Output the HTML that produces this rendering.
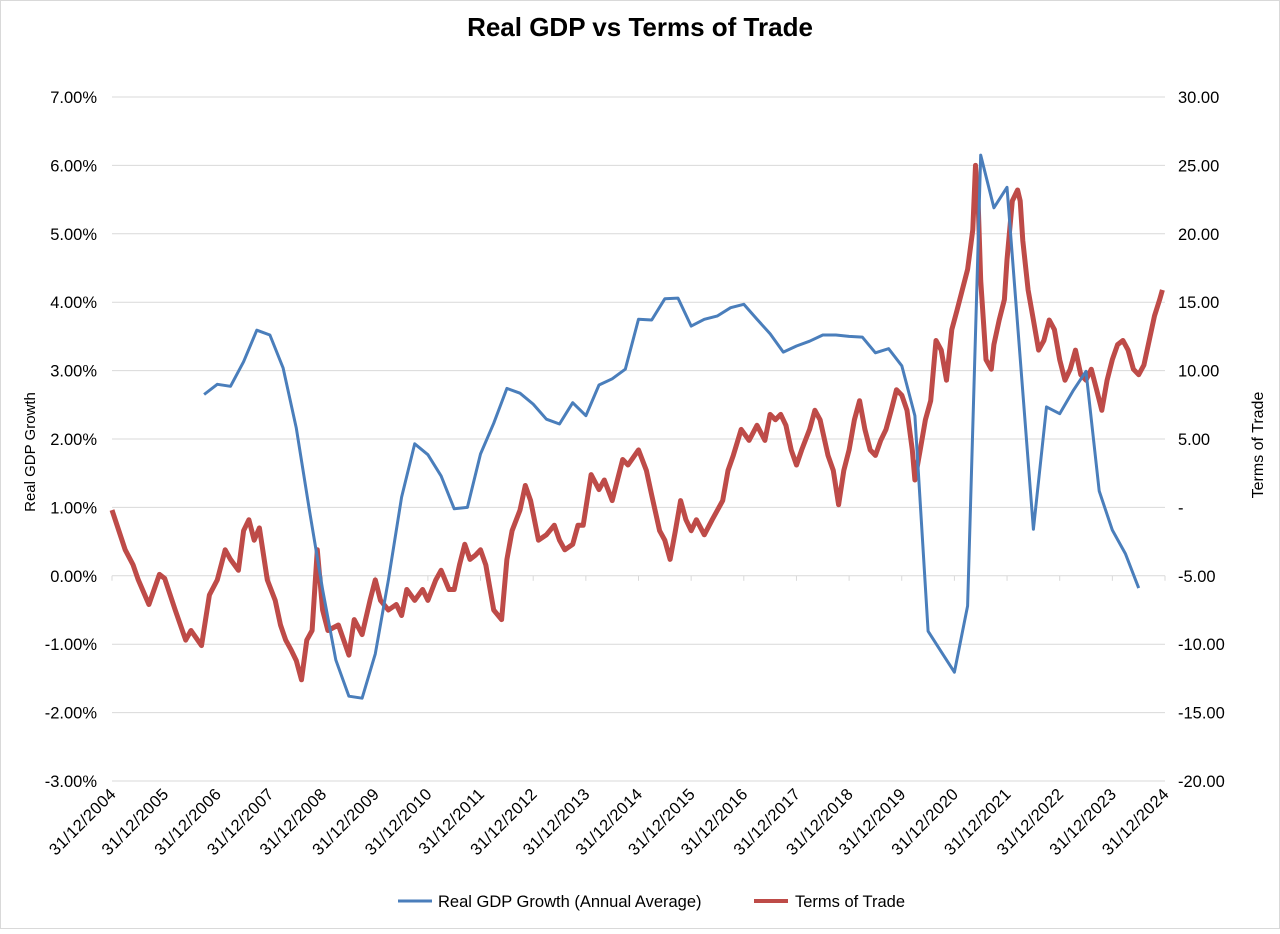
<!DOCTYPE html>
<html><head><meta charset="utf-8"><style>
body{margin:0;background:#fff;font-family:"Liberation Sans",sans-serif}
#wrap{position:relative;width:1280px;height:929px;background:#fff}
svg text{font-family:"Liberation Sans",sans-serif;fill:#000}
</style></head><body>
<div id="wrap">
<svg id="chart" width="1280" height="929">
<rect x="0.5" y="0.5" width="1279" height="928" fill="#fff" stroke="#d9d9d9"/>
<text x="640" y="36" text-anchor="middle" font-size="26" font-weight="bold">Real GDP vs Terms of Trade</text>
<text transform="translate(35,452) rotate(-90)" text-anchor="middle" font-size="15">Real GDP Growth</text>
<text transform="translate(1263,445) rotate(-90)" text-anchor="middle" font-size="16">Terms of Trade</text>
<g id="grid"></g><g id="axes"></g><g id="series"></g>
<g>
<line x1="398" y1="901" x2="432" y2="901" stroke="#4a7ebb" stroke-width="3"/>
<text x="438" y="907" font-size="16.5">Real GDP Growth (Annual Average)</text>
<line x1="754" y1="901" x2="788" y2="901" stroke="#be4b48" stroke-width="4"/>
<text x="795" y="907" font-size="16.5">Terms of Trade</text>
</g>
</svg></div>
<script>
const leftTicks=[7,6,5,4,3,2,1,0,-1,-2,-3];
const leftTickLabels=["7.00%","6.00%","5.00%","4.00%","3.00%","2.00%","1.00%","0.00%","-1.00%","-2.00%","-3.00%"];
const rightTickLabels=["30.00","25.00","20.00","15.00","10.00","5.00","-","-5.00","-10.00","-15.00","-20.00"];
const xTickYears=[2005,2006,2007,2008,2009,2010,2011,2012,2013,2014,2015,2016,2017,2018,2019,2020,2021,2022,2023,2024,2025];
const xTickLabels=["31/12/2004","31/12/2005","31/12/2006","31/12/2007","31/12/2008","31/12/2009","31/12/2010","31/12/2011","31/12/2012","31/12/2013","31/12/2014","31/12/2015","31/12/2016","31/12/2017","31/12/2018","31/12/2019","31/12/2020","31/12/2021","31/12/2022","31/12/2023","31/12/2024"];
const gdpStart=2006.75;
const gdpValues=[2.65,2.80,2.77,3.13,3.59,3.52,3.04,2.16,0.96,-0.2,
-1.23,-1.76,-1.79,-1.14,-0.06,1.15,1.93,1.77,1.46,0.98,
1.0,1.78,2.23,2.74,2.67,2.51,2.29,2.22,2.53,2.34,
2.79,2.88,3.02,3.75,3.74,4.05,4.06,3.65,3.75,3.80,
3.92,3.97,3.75,3.54,3.27,3.36,3.43,3.52,3.52,3.50,
3.49,3.26,3.32,3.07,2.34,-0.81,-1.11,-1.41,-0.44,6.15,
5.38,5.68,3.18,0.68,2.47,2.37,2.7,2.99,1.24,0.67,0.32,-0.18];
const totDates=[
2005.0,2005.25,2005.4,2005.5,2005.7,2005.9,
2006.0,2006.2,2006.4,2006.5,2006.7,2006.85,
2007.0,2007.15,2007.25,2007.4,2007.5,2007.6,2007.7,2007.8,2007.95,
2008.1,2008.2,2008.3,2008.4,2008.5,2008.6,2008.7,2008.8,2008.9,
2009.0,2009.1,2009.3,2009.4,2009.5,2009.6,2009.75,2009.9,
2010.0,2010.1,2010.25,2010.4,2010.5,2010.6,2010.75,2010.9,
2011.0,2011.15,2011.25,2011.4,2011.5,2011.6,2011.7,2011.8,2011.9,
2012.0,2012.1,2012.25,2012.4,2012.5,2012.6,2012.75,2012.85,2012.95,
2013.1,2013.25,2013.4,2013.5,2013.6,2013.75,2013.85,2013.95,
2014.1,2014.25,2014.35,2014.5,2014.6,2014.7,2014.8,
2015.0,2015.15,2015.25,2015.4,2015.5,2015.6,2015.7,2015.8,2015.9,
2016.0,2016.1,2016.25,2016.4,2016.5,2016.6,2016.7,2016.8,2016.95,
2017.1,2017.25,2017.4,2017.5,2017.6,2017.7,2017.8,2017.9,
2018.0,2018.1,2018.25,2018.35,2018.45,2018.6,2018.7,2018.8,2018.9,
2019.0,2019.1,2019.2,2019.3,2019.4,2019.5,2019.6,2019.7,2019.8,2019.9,
2020.0,2020.1,2020.2,2020.25,2020.35,2020.45,2020.55,2020.65,2020.75,2020.85,2020.95,
2021.05,2021.15,2021.25,2021.35,2021.4,2021.45,2021.5,2021.6,2021.7,2021.75,2021.85,2021.95,
2022.0,2022.1,2022.2,2022.25,2022.3,2022.4,2022.5,2022.6,2022.7,2022.8,2022.9,
2023.0,2023.1,2023.2,2023.3,2023.4,2023.5,2023.6,2023.7,2023.8,2023.9,
2024.0,2024.1,2024.2,2024.3,2024.4,2024.5,2024.6,2024.7,2024.8,2024.9,2024.95];
const totValues=[
-0.2,-3.1,-4.2,-5.3,-7.1,-4.9,
-5.2,-7.5,-9.7,-9.0,-10.1,-6.4,
-5.3,-3.1,-3.8,-4.6,-1.7,-0.9,-2.4,-1.5,-5.3,
-6.8,-8.6,-9.7,-10.4,-11.2,-12.6,-9.7,-9.0,-3.1,
-7.5,-9.0,-8.6,-9.7,-10.8,-8.2,-9.3,-6.8,
-5.3,-6.8,-7.5,-7.1,-7.9,-6.0,-6.8,-6.0,
-6.8,-5.3,-4.6,-6.0,-6.0,-4.2,-2.7,-3.8,-3.5,
-3.1,-4.2,-7.5,-8.2,-3.8,-1.7,-0.2,1.6,0.5,
-2.4,-2.0,-1.3,-2.4,-3.1,-2.7,-1.3,-1.3,
2.4,1.3,2.0,0.5,2.0,3.5,3.1,
4.2,2.7,0.9,-1.7,-2.4,-3.8,-1.7,0.5,-0.9,
-1.7,-0.9,-2.0,-0.9,-0.2,0.5,2.7,3.8,5.7,
4.9,6.0,4.9,6.8,6.4,6.8,6.0,4.2,
3.1,4.2,5.7,7.1,6.4,3.8,2.7,0.2,2.7,
4.2,6.4,7.8,5.7,4.2,3.8,4.9,5.7,7.1,8.6,
8.2,7.1,4.2,2.0,4.2,6.4,7.8,12.2,11.5,9.3,13.0,
14.4,15.9,17.4,20.3,25.0,22.4,16.6,10.8,10.1,11.9,13.7,15.2,
18.1,22.4,23.2,22.4,19.5,15.9,13.7,11.5,12.2,13.7,13.0,
10.8,9.3,10.1,11.5,9.7,9.3,10.1,8.6,7.1,9.3,
10.8,11.9,12.2,11.5,10.1,9.7,10.4,12.2,14.0,15.2,15.9];

const NS="http://www.w3.org/2000/svg";
const X0=112,X1=1165,YT=97,YB=781;
function xScale(yr){return X0+(yr-2005)/20*(X1-X0);}
function yLeft(v){return YT+(7-v)/10*(YB-YT);}
function yRight(v){return YT+(30-v)/50*(YB-YT);}
function mk(tag,attrs,parent){const e=document.createElementNS(NS,tag);for(const k in attrs)e.setAttribute(k,attrs[k]);parent.appendChild(e);return e;}
const grid=document.getElementById('grid'),axes=document.getElementById('axes'),series=document.getElementById('series');
leftTicks.forEach((v,i)=>{
  const y=yLeft(v);
  const g=mk('line',{x1:X0,x2:X1,y1:y,y2:y,stroke:'#d9d9d9','stroke-width':1},grid);
  
  
  const t=mk('text',{x:97,y:y+6,'text-anchor':'end','font-size':16.5},axes);
  t.textContent=leftTickLabels[i];
  
  
  const r=mk('text',{x:1178,y:y+6,'font-size':16.5},axes);
  r.textContent=rightTickLabels[i];
  
  
});
const y0=yLeft(0);
xTickYears.forEach((yr,i)=>{
  const x=xScale(yr);
  const tk=mk('line',{x1:x,x2:x,y1:y0,y2:y0+5,stroke:'#d9d9d9','stroke-width':1},axes);
  
  
  const t=mk('text',{transform:`translate(${x+5},${YB+14}) rotate(-45)`,'text-anchor':'end','font-size':16.5,'letter-spacing':'0.4'},axes);
  t.textContent=xTickLabels[i];
  
  
});
let dT=totValues.map((v,i)=>(i?'L':'M')+xScale(totDates[i]).toFixed(1)+','+yRight(v).toFixed(1)).join(' ');
const pt=mk('path',{d:dT,fill:'none',stroke:'#be4b48','stroke-width':5,'stroke-linejoin':'round'},series);


let dG=gdpValues.map((v,i)=>(i?'L':'M')+xScale(gdpStart+i*0.25).toFixed(1)+','+yLeft(v).toFixed(1)).join(' ');
const pg=mk('path',{d:dG,fill:'none',stroke:'#4a7ebb','stroke-width':3,'stroke-linejoin':'round'},series);


</script>
</body></html>
